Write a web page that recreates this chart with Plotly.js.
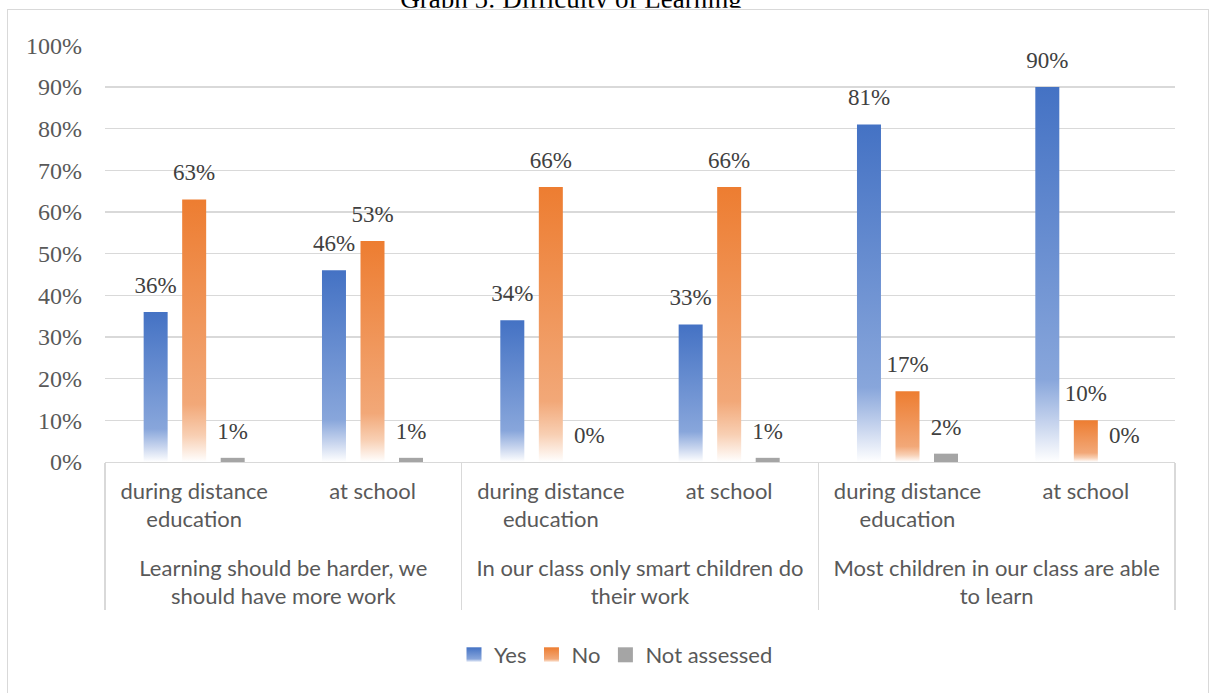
<!DOCTYPE html>
<html><head><meta charset="utf-8">
<script src="https://cdn.plot.ly/plotly-3.0.1.min.js"></script>
<style>
html,body{margin:0;padding:0;background:#fff;overflow:hidden;width:1210px;height:693px;}
#frame{position:absolute;left:7px;top:9px;width:1202px;height:720px;border:1.5px solid #d9d9d9;box-sizing:border-box;}
#chart{position:absolute;left:0;top:0;width:1210px;height:693px;}
.gtitle{clip-path: inset(0 0 21% 0);}
</style></head><body>
<div id="frame"></div>
<div id="chart"></div>
<script>
// ---- data ----
const statements = [
  "Learning should be harder, we<br>should have more work",
  "In our class only smart children do<br>their work",
  "Most children in our class are able<br>to learn"
];
const periods = ["during distance<br>education", "at school"];
const seriesNames = ["Yes", "No", "Not assessed"];
const yes = [0.36, 0.46, 0.34, 0.33, 0.81, 0.90];
const no = [0.63, 0.53, 0.66, 0.66, 0.17, 0.10];
const notAssessed = [0.01, 0.01, 0.00, 0.01, 0.02, 0.00];
const yTicks = [0, 0.1, 0.2, 0.3, 0.4, 0.5, 0.6, 0.7, 0.8, 0.9, 1.0];
const colors = ["#4472C4", "#ED7D31", "#A5A5A5"];

// ---- build ----
const xGroup = [], xPeriod = [];
statements.forEach(s => periods.forEach(p => { xGroup.push('<br>' + s); xPeriod.push(p); }));

function makeTrace(name, vals, color) {
  return {
    type: 'bar', name: name,
    x: [xGroup, xPeriod], y: vals,
    marker: {color: color, line: {width: 0}},
    texttemplate: '%{y:.0%}',
    textposition: 'outside',
    constraintext: 'none',
    textfont: {family: 'Liberation Serif', size: 23, color: '#404040'},
    cliponaxis: false,
    hoverinfo: 'skip'
  };
}
const data = [
  makeTrace(seriesNames[0], yes, colors[0]),
  makeTrace(seriesNames[1], no, colors[1]),
  makeTrace(seriesNames[2], notAssessed, colors[2])
];

const layout = {
  width: 1210, height: 693,
  margin: {l: 105, r: 35, t: 45, b: 231},
  paper_bgcolor: 'rgba(0,0,0,0)', plot_bgcolor: 'rgba(0,0,0,0)',
  title: {
    text: 'Graph 5: Difficulty of Learning',
    font: {family: 'Liberation Serif', size: 27, color: '#000000'},
    xref: 'container', x: 571 / 1210, xanchor: 'center',
    yref: 'container', y: 1 - 8 / 693, yanchor: 'bottom'
  },
  barmode: 'group', bargap: 0.352, bargroupgap: 0.377,
  yaxis: {
    range: [0, 1.0005], tickvals: yTicks, tickformat: '.0%',
    gridcolor: '#d9d9d9', gridwidth: 1.3, zeroline: false, showline: false,
    ticks: '', ticklabelstandoff: 22,
    tickfont: {family: 'Liberation Serif', size: 24, color: '#595959'},
    fixedrange: true
  },
  xaxis: {
    type: 'multicategory', showline: true, linecolor: '#d9d9d9', linewidth: 1.3,
    showdividers: true, dividercolor: '#d9d9d9', dividerwidth: 1.3,
    ticks: '', showgrid: false, ticklabelstandoff: 9,
    tickfont: {family: 'Lato', size: 22, color: '#595959'},
    fixedrange: true
  },
  showlegend: true,
  legend: {
    orientation: 'h', xref: 'container', yref: 'container',
    x: 616 / 1210, xanchor: 'center', y: 1 - 655 / 693, yanchor: 'middle',
    font: {family: 'Lato', size: 22, color: '#595959'},
    itemwidth: 30, bgcolor: 'rgba(0,0,0,0)'
  }
};

Plotly.newPlot('chart', data, layout, {staticPlot: true, displayModeBar: false}).then(gd => {
  const ns = 'http://www.w3.org/2000/svg';
  const svg = gd.querySelector('svg.main-svg');
  let defs = svg.querySelector('defs');
  if (!defs) { defs = document.createElementNS(ns, 'defs'); svg.insertBefore(defs, svg.firstChild); }
  const grads = [
    ['gradYes', [[0, '#4472C4'], [0.78, '#88a6db'], [0.9, '#c8d5ee'], [1, '#ffffff']]],
    ['gradNo', [[0, '#ED7D31'], [0.78, '#f2a878'], [0.9, '#f8cfb3'], [1, '#ffffff']]]
  ];
  grads.forEach(([id, stops]) => {
    const lg = document.createElementNS(ns, 'linearGradient');
    lg.setAttribute('id', id);
    lg.setAttribute('x1', '0'); lg.setAttribute('y1', '0');
    lg.setAttribute('x2', '0'); lg.setAttribute('y2', '1');
    stops.forEach(([o, c]) => {
      const s = document.createElementNS(ns, 'stop');
      s.setAttribute('offset', o); s.setAttribute('stop-color', c);
      lg.appendChild(s);
    });
    defs.appendChild(lg);
  });
  const traces = gd.querySelectorAll('.barlayer .trace');
  traces.forEach((tr, i) => {
    if (i < 2) {
      tr.querySelectorAll('.point path').forEach(p => { p.style.fill = 'url(#' + grads[i][0] + ')'; });
    }
  });
  gd.querySelectorAll('.barlayer .bartext').forEach(t => {
    t.setAttribute('transform', 'translate(0,-11) ' + (t.getAttribute('transform') || ''));
  });
  const leg = gd.querySelectorAll('.legend .traces');
  leg.forEach((tr, i) => {
    tr.querySelectorAll('.legendpoints path').forEach(p => {
      if (i < 2) p.style.fill = 'url(#' + grads[i][0] + ')';
      p.setAttribute('transform', (p.getAttribute('transform') || '') + ' scale(1.25)');
    });
  });
});
</script>
</body></html>
